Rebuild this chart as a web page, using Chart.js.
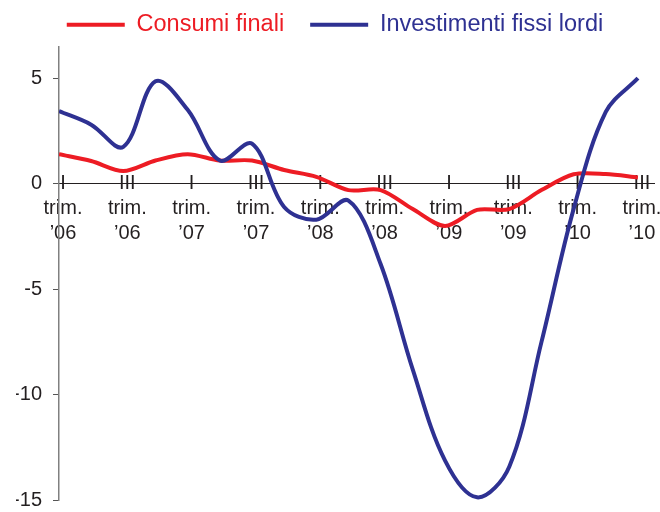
<!DOCTYPE html>
<html><head><meta charset="utf-8">
<script src="https://cdn.jsdelivr.net/npm/chart.js@4"></script>
<style>html,body{margin:0;padding:0;background:#fff}</style>
</head><body>
<canvas id="c" width="660" height="512"></canvas>
<script>
const categories = [
  "I trim. ’06","II trim. ’06","III trim. ’06","IV trim. ’06",
  "I trim. ’07","II trim. ’07","III trim. ’07","IV trim. ’07",
  "I trim. ’08","II trim. ’08","III trim. ’08","IV trim. ’08",
  "I trim. ’09","II trim. ’09","III trim. ’09","IV trim. ’09",
  "I trim. ’10","II trim. ’10","III trim. ’10"
];
const consumiFinali = [1.4,1.08,0.6,1.1,1.4,1.1,1.1,0.65,0.33,-0.3,-0.3,-1.2,-2.0,-1.24,-1.2,-0.3,0.45,0.46,0.3];
const investimentiFissiLordi = [3.44,2.8,1.75,4.85,3.5,1.1,1.9,-1.1,-1.7,-0.8,-3.8,-8.8,-13.1,-14.85,-13.4,-7.5,-1.2,3.4,5.0];
const yTicks = [-15,-10,-5,0,5];
const seriesNames = ["Consumi finali","Investimenti fissi lordi"];

const RED = '#ed1c24', BLUE = '#2e3192', INK = '#231f20';
const toPts = arr => arr.map((v,i)=>({x:i,y:v}));

new Chart(document.getElementById('c'), {
  type: 'line',
  data: {
    datasets: [
      {label: seriesNames[0], data: toPts(consumiFinali), borderColor: RED, backgroundColor: RED,
       borderWidth: 4, pointRadius: 0, tension: 0.3, borderJoinStyle: 'round', order: 1},
      {label: seriesNames[1], data: toPts(investimentiFissiLordi), borderColor: BLUE, backgroundColor: BLUE,
       borderWidth: 4, pointRadius: 0, tension: 0.35, borderJoinStyle: 'round', order: 0}
    ]
  },
  options: {
    responsive: false, animation: false, devicePixelRatio: 1,
    layout: {padding: {left: 16, right: 6, top: 0, bottom: 0}},
    font: {family: "'Liberation Sans', Arial, sans-serif"},
    plugins: {
      tooltip: {enabled: false},
      legend: {
        position: 'top',
        labels: {
          font: {family: "'Liberation Sans', Arial, sans-serif", size: 23.5},
          boxWidth: 58, boxHeight: 4, padding: 13,
          sort: (a,b) => a.datasetIndex - b.datasetIndex,
          generateLabels: (chart) => {
            const items = Chart.defaults.plugins.legend.labels.generateLabels(chart);
            items.forEach(it => {
              const ds = chart.data.datasets[it.datasetIndex];
              it.fontColor = ds.borderColor;
              it.fillStyle = ds.borderColor;
              it.strokeStyle = ds.borderColor;
              it.lineWidth = 0;
              if (it.datasetIndex === 0) it.text = it.text + '  ';
            });
            return items;
          }
        }
      }
    },
    scales: {
      x: {
        type: 'linear', min: 0, max: 18.5,
        position: {y: 0},
        afterBuildTicks: s => { s.ticks = categories.map((c,i)=>i).filter(i=>i%2===0).map(v=>({value:v})); },
        grid: {display: true, drawOnChartArea: false, drawTicks: false},
        border: {display: true, color: INK, width: 1},
        ticks: {
          autoSkip: false, maxRotation: 0, padding: -12.5, labelOffset: 4,
          color: INK,
          font: {family: "'Liberation Sans', Arial, sans-serif", size: 20, lineHeight: 1.24},
          callback: v => categories[v] ? categories[v].split(' ') : ''
        }
      },
      y: {
        min: -15, max: 6.5,
        afterBuildTicks: s => { s.ticks = yTicks.map(v=>({value:v})); },
        afterFit: s => { s.width = 43; },
        grid: {display: true, drawOnChartArea: false, drawTicks: true, tickLength: 6, color: '#555555', lineWidth: 1},
        border: {display: true, color: '#808080', width: 1.5},
        ticks: {
          padding: 11, color: INK,
          font: {family: "'Liberation Sans', Arial, sans-serif", size: 20, lineHeight: 0.05},
          callback: v => String(v)
        }
      }
    }
  }
});
</script>
</body></html>
